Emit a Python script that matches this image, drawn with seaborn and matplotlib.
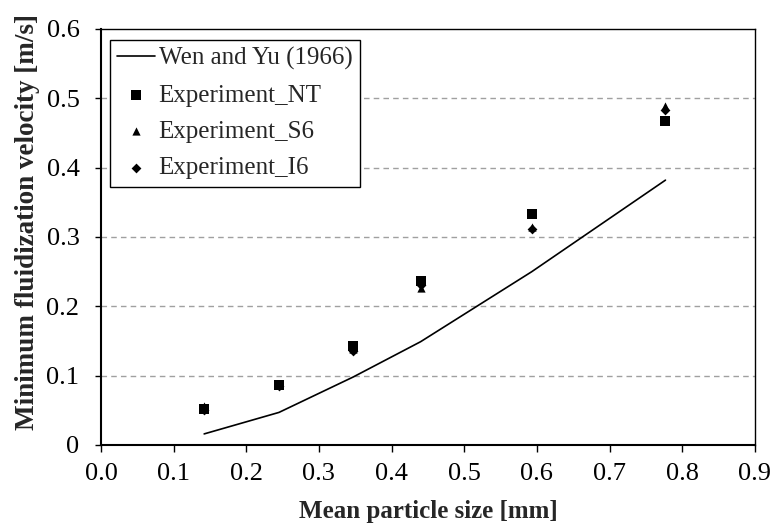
import matplotlib
matplotlib.use("Agg")
import matplotlib.pyplot as plt
import seaborn as sns
import pandas as pd

# Data
size_model = [0.142, 0.245, 0.347, 0.44, 0.593, 0.777]
umf_model = [0.016, 0.047, 0.098, 0.149, 0.250, 0.382]

size_exp = [0.142, 0.245, 0.347, 0.44, 0.593, 0.777]
umf_nt = [0.052, 0.087, 0.143, 0.236, 0.333, 0.468]
umf_s6 = [0.056, 0.086, 0.138, 0.227, 0.314, 0.489]
umf_i6 = [0.050, 0.085, 0.135, 0.231, 0.312, 0.483]

x_ticks = [0.0, 0.1, 0.2, 0.3, 0.4, 0.5, 0.6, 0.7, 0.8, 0.9]
y_ticks = [0, 0.1, 0.2, 0.3, 0.4, 0.5, 0.6]
y_ticklabels = ["0", "0.1", "0.2", "0.3", "0.4", "0.5", "0.6"]

sns.set_style("ticks")
plt.rcParams["font.family"] = ["Liberation Serif", "DejaVu Serif"]

fig = plt.figure(figsize=(7.71, 5.27), dpi=100)
ax = fig.add_axes([0.131, 0.1556, 0.848, 0.7894])

df_model = pd.DataFrame({"x": size_model, "y": umf_model})
sns.lineplot(data=df_model, x="x", y="y", ax=ax, color="black", linewidth=1.2,
             label="Wen and Yu (1966)")

sns.scatterplot(x=size_exp, y=umf_nt, ax=ax, marker="s", s=50, color="black",
                edgecolor="black", linewidth=0, label="Experiment_NT", zorder=3)
sns.scatterplot(x=size_exp, y=umf_s6, ax=ax, marker="^", s=35, color="black",
                edgecolor="black", linewidth=0, label="Experiment_S6", zorder=3)
sns.scatterplot(x=size_exp, y=umf_i6, ax=ax, marker="D", s=25, color="black",
                edgecolor="black", linewidth=0, label="Experiment_I6", zorder=3)

ax.set_xlim(0, 0.9)
ax.set_ylim(0, 0.6)
ax.set_xticks(x_ticks)
ax.set_xticklabels([f"{v:.1f}" for v in x_ticks])
ax.set_yticks(y_ticks)
ax.set_yticklabels(y_ticklabels)
ax.tick_params(axis="both", labelsize=19, direction="out", width=1,
               color="black", labelcolor="black")
ax.tick_params(axis="x", length=5, pad=8)
ax.tick_params(axis="y", length=4, pad=11.5)

for yv in y_ticks[1:-1]:
    ax.axhline(yv, color="#a0a0a0", linestyle=(0, (4, 3)), linewidth=1.0, zorder=0)

for side in ["top", "right", "left", "bottom"]:
    ax.spines[side].set_visible(True)
    ax.spines[side].set_color("black")
ax.spines["left"].set_linewidth(1.5)
ax.spines["bottom"].set_linewidth(1.5)
ax.spines["top"].set_linewidth(1.0)
ax.spines["right"].set_linewidth(1.0)

ax.set_xlabel("Mean particle size [mm]", fontsize=18, fontweight="bold", labelpad=11)
ax.set_ylabel("Minimum fluidization velocity [m/s]", fontsize=19.5, fontweight="bold",
              labelpad=5, y=0.536)

leg = ax.legend(loc="upper left", bbox_to_anchor=(0.0135, 0.974), fontsize=18,
                frameon=True, fancybox=False, edgecolor="black", framealpha=1,
                borderpad=0.3, labelspacing=0.55, handlelength=1.5, handletextpad=0.15,
                borderaxespad=0)
leg.get_frame().set_linewidth(1.0)

fig.savefig("out.png", dpi=100)
